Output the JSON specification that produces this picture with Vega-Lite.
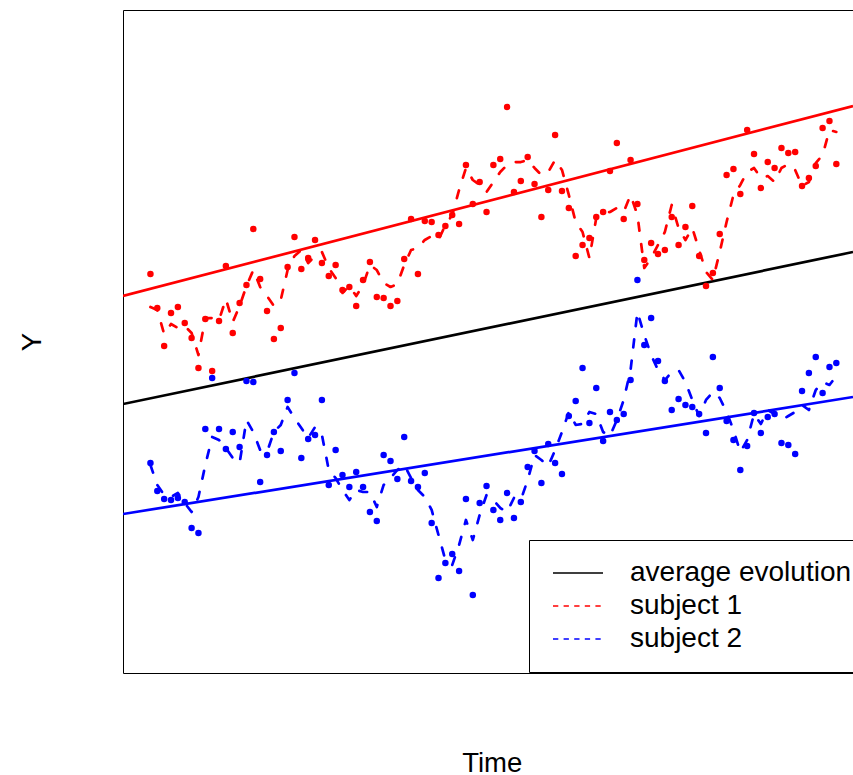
{
  "$schema": "https://vega.github.io/schema/vega-lite/v6.json",
  "width": 730,
  "height": 663,
  "autosize": {"type": "none"},
  "padding": {"left": 123, "top": 10, "right": 0, "bottom": 102},
  "background": "white",
  "config": {
    "view": {"stroke": null},
    "axis": {"labels": false, "ticks": false, "grid": false, "domain": true, "domainColor": "black", "domainWidth": 1, "titleFont": "Liberation Sans", "titleFontSize": 27.5, "titleFontWeight": "normal", "titleColor": "black"}
  },
  "datasets": {
    "obs": [
      {"t":0,"s":"subject 1","y":60.18,"f":55.20},{"t":1,"s":"subject 1","y":55.05,"f":54.75},{"t":2,"s":"subject 1","y":49.32,"f":51.13},{"t":3,"s":"subject 1","y":54.30,"f":52.64},{"t":4,"s":"subject 1","y":55.20,"f":52.04},{"t":5,"s":"subject 1","y":52.79,"f":52.34},{"t":6,"s":"subject 1","y":50.53,"f":51.28},{"t":7,"s":"subject 1","y":46.00,"f":47.96},{"t":8,"s":"subject 1","y":53.39,"f":53.54},{"t":9,"s":"subject 1","y":45.55,"f":53.54},
      {"t":10,"s":"subject 1","y":53.09,"f":53.24},{"t":11,"s":"subject 1","y":61.39,"f":56.41},{"t":12,"s":"subject 1","y":51.28,"f":52.94},{"t":13,"s":"subject 1","y":55.81,"f":55.35},{"t":14,"s":"subject 1","y":58.52,"f":58.37},{"t":15,"s":"subject 1","y":66.97,"f":60.78},{"t":16,"s":"subject 1","y":59.43,"f":58.22},{"t":17,"s":"subject 1","y":54.60,"f":56.86},{"t":18,"s":"subject 1","y":50.38,"f":55.35},{"t":19,"s":"subject 1","y":52.04,"f":56.26},
      {"t":20,"s":"subject 1","y":61.24,"f":60.78},{"t":21,"s":"subject 1","y":65.76,"f":62.90},{"t":22,"s":"subject 1","y":60.94,"f":63.80},{"t":23,"s":"subject 1","y":62.59,"f":61.84},{"t":24,"s":"subject 1","y":65.31,"f":62.90},{"t":25,"s":"subject 1","y":61.84,"f":63.50},{"t":26,"s":"subject 1","y":59.88,"f":61.09},{"t":27,"s":"subject 1","y":61.54,"f":59.58},{"t":28,"s":"subject 1","y":57.77,"f":57.32},{"t":29,"s":"subject 1","y":58.22,"f":58.37},
      {"t":30,"s":"subject 1","y":55.35,"f":56.86},{"t":31,"s":"subject 1","y":59.28,"f":58.52},{"t":32,"s":"subject 1","y":61.99,"f":61.54},{"t":33,"s":"subject 1","y":56.71,"f":60.78},{"t":34,"s":"subject 1","y":56.56,"f":58.82},{"t":35,"s":"subject 1","y":55.35,"f":58.22},{"t":36,"s":"subject 1","y":56.11,"f":58.67},{"t":37,"s":"subject 1","y":62.44,"f":61.54},{"t":38,"s":"subject 1","y":68.48,"f":63.80},{"t":39,"s":"subject 1","y":60.18,"f":64.10},
      {"t":40,"s":"subject 1","y":68.17,"f":65.31},{"t":41,"s":"subject 1","y":68.02,"f":65.91},{"t":42,"s":"subject 1","y":66.06,"f":65.31},{"t":43,"s":"subject 1","y":67.42,"f":67.57},{"t":44,"s":"subject 1","y":69.08,"f":69.08},{"t":45,"s":"subject 1","y":67.72,"f":72.85},{"t":46,"s":"subject 1","y":76.62,"f":76.17},{"t":47,"s":"subject 1","y":70.74,"f":74.36},{"t":48,"s":"subject 1","y":74.06,"f":73.61},{"t":49,"s":"subject 1","y":69.53,"f":72.55},
      {"t":50,"s":"subject 1","y":76.62,"f":74.06},{"t":51,"s":"subject 1","y":77.53,"f":75.57},{"t":52,"s":"subject 1","y":85.37,"f":76.62},{"t":53,"s":"subject 1","y":72.55,"f":77.07},{"t":54,"s":"subject 1","y":74.21,"f":77.07},{"t":55,"s":"subject 1","y":77.83,"f":77.38},{"t":56,"s":"subject 1","y":73.76,"f":76.17},{"t":57,"s":"subject 1","y":68.78,"f":75.11},{"t":58,"s":"subject 1","y":72.85,"f":75.57},{"t":59,"s":"subject 1","y":81.15,"f":77.38},
      {"t":60,"s":"subject 1","y":72.70,"f":75.87},{"t":61,"s":"subject 1","y":70.14,"f":72.10},{"t":62,"s":"subject 1","y":62.90,"f":68.02},{"t":63,"s":"subject 1","y":64.56,"f":66.52},{"t":64,"s":"subject 1","y":65.61,"f":62.59},{"t":65,"s":"subject 1","y":68.78,"f":68.63},{"t":66,"s":"subject 1","y":69.53,"f":69.38},{"t":67,"s":"subject 1","y":75.72,"f":69.53},{"t":68,"s":"subject 1","y":79.94,"f":70.14},{"t":69,"s":"subject 1","y":68.48,"f":69.53},
      {"t":70,"s":"subject 1","y":77.38,"f":72.10},{"t":71,"s":"subject 1","y":70.74,"f":69.08},{"t":72,"s":"subject 1","y":62.29,"f":61.09},{"t":73,"s":"subject 1","y":64.86,"f":62.59},{"t":74,"s":"subject 1","y":63.20,"f":64.56},{"t":75,"s":"subject 1","y":63.80,"f":66.52},{"t":76,"s":"subject 1","y":68.78,"f":70.59},{"t":77,"s":"subject 1","y":64.56,"f":67.12},{"t":78,"s":"subject 1","y":67.27,"f":65.31},{"t":79,"s":"subject 1","y":70.44,"f":67.12},
      {"t":80,"s":"subject 1","y":62.90,"f":63.80},{"t":81,"s":"subject 1","y":58.37,"f":60.48},{"t":82,"s":"subject 1","y":60.33,"f":59.28},{"t":83,"s":"subject 1","y":66.21,"f":63.50},{"t":84,"s":"subject 1","y":75.11,"f":68.02},{"t":85,"s":"subject 1","y":76.02,"f":72.10},{"t":86,"s":"subject 1","y":72.25,"f":73.61},{"t":87,"s":"subject 1","y":81.90,"f":75.57},{"t":88,"s":"subject 1","y":78.28,"f":76.17},{"t":89,"s":"subject 1","y":73.15,"f":74.66},
      {"t":90,"s":"subject 1","y":77.07,"f":74.96},{"t":91,"s":"subject 1","y":76.17,"f":74.06},{"t":92,"s":"subject 1","y":79.19,"f":76.17},{"t":93,"s":"subject 1","y":78.43,"f":76.77},{"t":94,"s":"subject 1","y":78.58,"f":75.87},{"t":95,"s":"subject 1","y":73.45,"f":73.45},{"t":96,"s":"subject 1","y":74.66,"f":74.06},{"t":97,"s":"subject 1","y":76.47,"f":76.92},{"t":98,"s":"subject 1","y":82.20,"f":78.13},{"t":99,"s":"subject 1","y":83.26,"f":81.90},{"t":100,"s":"subject 1","y":76.77,"f":81.60},
      {"t":0,"s":"subject 2","y":31.67,"f":31.37},{"t":1,"s":"subject 2","y":27.45,"f":28.36},{"t":2,"s":"subject 2","y":26.24,"f":26.85},{"t":3,"s":"subject 2","y":26.09,"f":26.55},{"t":4,"s":"subject 2","y":26.40,"f":27.15},{"t":5,"s":"subject 2","y":25.79,"f":25.64},{"t":6,"s":"subject 2","y":21.87,"f":24.28},{"t":7,"s":"subject 2","y":21.12,"f":26.55},{"t":8,"s":"subject 2","y":36.80,"f":31.37},{"t":9,"s":"subject 2","y":44.49,"f":35.60},
      {"t":10,"s":"subject 2","y":36.80,"f":35.14},{"t":11,"s":"subject 2","y":33.79,"f":33.94},{"t":12,"s":"subject 2","y":36.35,"f":32.43},{"t":13,"s":"subject 2","y":34.09,"f":31.67},{"t":14,"s":"subject 2","y":44.04,"f":38.16},{"t":15,"s":"subject 2","y":43.89,"f":36.35},{"t":16,"s":"subject 2","y":28.81,"f":33.63},{"t":17,"s":"subject 2","y":32.88,"f":33.33},{"t":18,"s":"subject 2","y":36.35,"f":36.35},{"t":19,"s":"subject 2","y":33.48,"f":37.41},
      {"t":20,"s":"subject 2","y":41.18,"f":40.12},{"t":21,"s":"subject 2","y":45.25,"f":38.46},{"t":22,"s":"subject 2","y":32.43,"f":36.95},{"t":23,"s":"subject 2","y":35.29,"f":35.44},{"t":24,"s":"subject 2","y":35.90,"f":37.10},{"t":25,"s":"subject 2","y":41.18,"f":35.90},{"t":26,"s":"subject 2","y":28.36,"f":30.62},{"t":27,"s":"subject 2","y":33.63,"f":29.41},{"t":28,"s":"subject 2","y":29.86,"f":27.60},{"t":29,"s":"subject 2","y":28.05,"f":26.09},
      {"t":30,"s":"subject 2","y":30.32,"f":27.60},{"t":31,"s":"subject 2","y":28.05,"f":27.30},{"t":32,"s":"subject 2","y":24.28,"f":27.30},{"t":33,"s":"subject 2","y":22.93,"f":25.04},{"t":34,"s":"subject 2","y":32.88,"f":28.36},{"t":35,"s":"subject 2","y":31.98,"f":29.41},{"t":36,"s":"subject 2","y":29.26,"f":30.62},{"t":37,"s":"subject 2","y":35.60,"f":31.37},{"t":38,"s":"subject 2","y":28.96,"f":29.41},{"t":39,"s":"subject 2","y":28.05,"f":27.60},
      {"t":40,"s":"subject 2","y":30.17,"f":26.55},{"t":41,"s":"subject 2","y":22.62,"f":24.59},{"t":42,"s":"subject 2","y":14.33,"f":20.81},{"t":43,"s":"subject 2","y":16.59,"f":17.04},{"t":44,"s":"subject 2","y":17.95,"f":16.29},{"t":45,"s":"subject 2","y":15.38,"f":19.31},{"t":46,"s":"subject 2","y":26.24,"f":23.08},{"t":47,"s":"subject 2","y":11.76,"f":20.06},{"t":48,"s":"subject 2","y":25.64,"f":23.83},{"t":49,"s":"subject 2","y":28.21,"f":26.85},
      {"t":50,"s":"subject 2","y":24.59,"f":26.09},{"t":51,"s":"subject 2","y":23.08,"f":24.89},{"t":52,"s":"subject 2","y":27.15,"f":24.28},{"t":53,"s":"subject 2","y":23.38,"f":26.40},{"t":54,"s":"subject 2","y":25.79,"f":26.09},{"t":55,"s":"subject 2","y":31.07,"f":29.11},{"t":56,"s":"subject 2","y":33.48,"f":32.88},{"t":57,"s":"subject 2","y":28.66,"f":32.13},{"t":58,"s":"subject 2","y":34.54,"f":31.22},{"t":59,"s":"subject 2","y":31.67,"f":33.63},
      {"t":60,"s":"subject 2","y":30.02,"f":36.35},{"t":61,"s":"subject 2","y":38.76,"f":39.37},{"t":62,"s":"subject 2","y":41.03,"f":37.41},{"t":63,"s":"subject 2","y":46.00,"f":37.56},{"t":64,"s":"subject 2","y":37.71,"f":39.37},{"t":65,"s":"subject 2","y":42.99,"f":39.06},{"t":66,"s":"subject 2","y":34.99,"f":36.35},{"t":67,"s":"subject 2","y":39.37,"f":35.75},{"t":68,"s":"subject 2","y":38.16,"f":38.16},{"t":69,"s":"subject 2","y":39.06,"f":41.18},
      {"t":70,"s":"subject 2","y":44.19,"f":45.70},{"t":71,"s":"subject 2","y":59.28,"f":54.45},{"t":72,"s":"subject 2","y":49.47,"f":50.98},{"t":73,"s":"subject 2","y":53.54,"f":47.96},{"t":74,"s":"subject 2","y":47.06,"f":45.70},{"t":75,"s":"subject 2","y":44.04,"f":44.19},{"t":76,"s":"subject 2","y":39.67,"f":45.40},{"t":77,"s":"subject 2","y":41.33,"f":45.70},{"t":78,"s":"subject 2","y":40.42,"f":43.89},{"t":79,"s":"subject 2","y":40.12,"f":41.18},
      {"t":80,"s":"subject 2","y":39.06,"f":38.76},{"t":81,"s":"subject 2","y":36.20,"f":41.18},{"t":82,"s":"subject 2","y":47.66,"f":42.38},{"t":83,"s":"subject 2","y":42.99,"f":41.48},{"t":84,"s":"subject 2","y":38.01,"f":39.37},{"t":85,"s":"subject 2","y":35.14,"f":36.65},{"t":86,"s":"subject 2","y":30.62,"f":33.33},{"t":87,"s":"subject 2","y":34.24,"f":35.14},{"t":88,"s":"subject 2","y":39.22,"f":39.06},{"t":89,"s":"subject 2","y":36.20,"f":37.56},
      {"t":90,"s":"subject 2","y":38.61,"f":39.67},{"t":91,"s":"subject 2","y":39.06,"f":39.06},{"t":92,"s":"subject 2","y":34.69,"f":38.16},{"t":93,"s":"subject 2","y":34.39,"f":38.76},{"t":94,"s":"subject 2","y":33.03,"f":39.37},{"t":95,"s":"subject 2","y":42.53,"f":40.42},{"t":96,"s":"subject 2","y":45.25,"f":39.67},{"t":97,"s":"subject 2","y":47.66,"f":42.68},{"t":98,"s":"subject 2","y":42.23,"f":43.89},{"t":99,"s":"subject 2","y":46.15,"f":43.44},{"t":100,"s":"subject 2","y":46.76,"f":44.80}
    ],
    "trend": [
      {"s":"average evolution","t":-4,"y":40.57},{"s":"average evolution","t":102.43,"y":63.50},
      {"s":"subject 1","t":-4,"y":56.86},{"s":"subject 1","t":102.43,"y":85.52},
      {"s":"subject 2","t":-4,"y":23.98},{"s":"subject 2","t":102.43,"y":41.63}
    ]
  },
  "layer": [
    {
      "data": {"name": "trend"},
      "mark": {"type": "line", "strokeWidth": 2.7, "clip": true},
      "encoding": {
        "x": {"field": "t", "type": "quantitative", "scale": {"domain": [-4, 102.43], "nice": false, "zero": false},
              "axis": {"orient": "top", "title": null}},
        "y": {"field": "y", "type": "quantitative", "scale": {"domain": [0, 100], "nice": false, "zero": false},
              "axis": {"orient": "left", "title": "Y", "titleX": -83, "titleY": 331.5, "titleBaseline": "alphabetic", "titleAlign": "center", "titleAngle": 270}},
        "color": {"field": "s", "type": "nominal",
                  "scale": {"domain": ["average evolution", "subject 1", "subject 2"], "range": ["#000000", "#FF0000", "#0000FF"]},
                  "legend": {
                    "title": null, "orient": "none", "legendX": 406, "legendY": 530, "direction": "vertical",
                    "symbolType": "M-5,0H5", "symbolSize": 100, "symbolStrokeWidth": 1.3,
                    "symbolOffset": 16, "labelOffset": 38, "padding": 19, "rowPadding": 5,
                    "labelFont": "Liberation Sans", "labelFontSize": 28, "labelColor": "black", "labelLimit": 1000,
                    "strokeColor": "black", "fillColor": "white",
                    "encode": {"symbols": {"update": {
                      "strokeDash": {"signal": "datum.value === 'average evolution' ? [1, 0] : [5.3, 5.3]"},
                      "fill": {"value": "transparent"},
                      "stroke": {"scale": "color", "field": "value"}
                    }}}
                  }},
        "detail": {"field": "s"}
      }
    },
    {
      "data": {"name": "obs"},
      "mark": {"type": "circle", "size": 42, "opacity": 1},
      "encoding": {
        "x": {"field": "t", "type": "quantitative",
              "axis": {"orient": "bottom", "title": "Time", "titleX": 368.7, "titleY": 98.5, "titleBaseline": "alphabetic", "titleAlign": "center"}},
        "y": {"field": "y", "type": "quantitative", "title": "Y"},
        "color": {"field": "s", "type": "nominal"}
      }
    },
    {
      "data": {"name": "obs"},
      "mark": {"type": "line", "strokeWidth": 2.7, "strokeDash": [8, 13.4], "strokeCap": "round", "strokeJoin": "round", "clip": true},
      "encoding": {
        "x": {"field": "t", "type": "quantitative", "axis": null},
        "y": {"field": "f", "type": "quantitative", "title": "Y"},
        "color": {"field": "s", "type": "nominal"},
        "detail": {"field": "s"}
      }
    }
  ],
  "resolve": {"axis": {"x": "independent"}}
}
